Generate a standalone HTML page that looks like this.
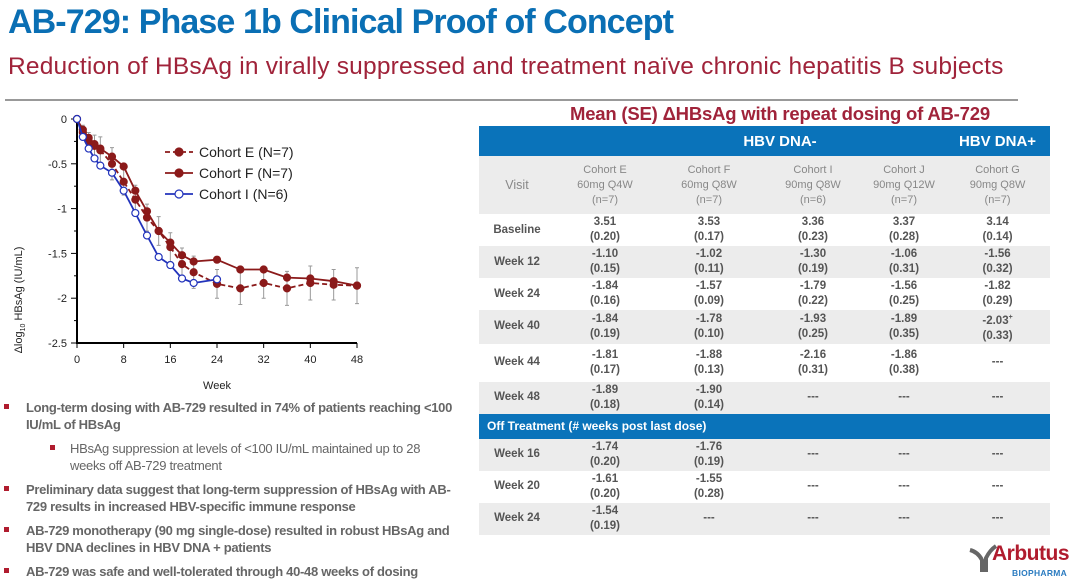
<!DOCTYPE html>
<html><head><meta charset="utf-8">
<style>
body{margin:0;width:1080px;height:583px;background:#fff;position:relative;overflow:hidden;font-family:"Liberation Sans",sans-serif}
.abs{position:absolute}
#title{left:8px;top:3px;font-weight:bold;font-size:34px;color:#0a6fb4;letter-spacing:-0.9px;white-space:nowrap}
#subtitle{left:8px;top:53px;font-size:24.5px;color:#a0233a;white-space:nowrap;letter-spacing:0.2px}
#rule{left:5px;top:99px;width:1013px;height:2px;background:#999}
table{border-collapse:collapse;font-size:11.5px;color:#555;table-layout:fixed}
td{text-align:center;padding:0;line-height:15px}
.g td{background:#ececec}
.b td{font-weight:bold}
.bul{font-size:13px;color:#666;line-height:17px;font-weight:bold;letter-spacing:-0.3px}
.bul .sq{position:absolute;top:5px;width:5px;height:5px;background:#b01c2e}
</style></head><body>
<div id="title" class="abs">AB-729: Phase 1b Clinical Proof of Concept</div>
<div id="subtitle" class="abs">Reduction of HBsAg in virally suppressed and treatment naïve chronic hepatitis B subjects</div>
<div id="rule" class="abs"></div>

<svg class="abs" style="left:0;top:100px" width="470" height="295" id="chart"></svg>

<div class="abs" style="left:570px;top:103px;font-weight:bold;font-size:18.5px;color:#a0233a;letter-spacing:-0.2px">Mean (SE) ΔHBsAg with repeat dosing of AB-729</div>

<table class="abs" style="left:479px;top:126px;width:571px">
<colgroup><col style="width:76px"><col style="width:100px"><col style="width:108px"><col style="width:100px"><col style="width:82px"><col style="width:105px"></colgroup>
<tr style="height:30px;background:#0a73ba;color:#fff;font-weight:bold;font-size:15px"><td></td><td colspan="4" style="padding-left:60px">HBV DNA-</td><td>HBV DNA+</td></tr>
<tr class="g" style="height:58px;color:#888;font-size:11px"><td style="font-size:12.5px">Visit</td><td>Cohort E<br>60mg Q4W<br>(n=7)</td><td>Cohort F<br>60mg Q8W<br>(n=7)</td><td>Cohort I<br>90mg Q8W<br>(n=6)</td><td>Cohort J<br>90mg Q12W<br>(n=7)</td><td>Cohort G<br>90mg Q8W<br>(n=7)</td></tr>
<tr class="b" style="height:32px"><td>Baseline</td><td>3.51<br>(0.20)</td><td>3.53<br>(0.17)</td><td>3.36<br>(0.23)</td><td>3.37<br>(0.28)</td><td>3.14<br>(0.14)</td></tr>
<tr class="b g" style="height:32px"><td>Week 12</td><td>-1.10<br>(0.15)</td><td>-1.02<br>(0.11)</td><td>-1.30<br>(0.19)</td><td>-1.06<br>(0.31)</td><td>-1.56<br>(0.32)</td></tr>
<tr class="b" style="height:32px"><td>Week 24</td><td>-1.84<br>(0.16)</td><td>-1.57<br>(0.09)</td><td>-1.79<br>(0.22)</td><td>-1.56<br>(0.25)</td><td>-1.82<br>(0.29)</td></tr>
<tr class="b g" style="height:32px"><td>Week 40</td><td>-1.84<br>(0.19)</td><td>-1.78<br>(0.10)</td><td>-1.93<br>(0.25)</td><td>-1.89<br>(0.35)</td><td>-2.03<sup style="font-size:7px">+</sup><br>(0.33)</td></tr>
<tr class="b" style="height:38px"><td>Week 44</td><td>-1.81<br>(0.17)</td><td>-1.88<br>(0.13)</td><td>-2.16<br>(0.31)</td><td>-1.86<br>(0.38)</td><td>---</td></tr>
<tr class="b g" style="height:32px"><td>Week 48</td><td>-1.89<br>(0.18)</td><td>-1.90<br>(0.14)</td><td>---</td><td>---</td><td>---</td></tr>
<tr style="height:25px;background:#0a73ba;color:#fff;font-weight:bold;font-size:12px"><td colspan="6" style="text-align:left;padding-left:8px">Off Treatment (# weeks post last dose)</td></tr>
<tr class="b g" style="height:32px"><td>Week 16</td><td>-1.74<br>(0.20)</td><td>-1.76<br>(0.19)</td><td>---</td><td>---</td><td>---</td></tr>
<tr class="b" style="height:32px"><td>Week 20</td><td>-1.61<br>(0.20)</td><td>-1.55<br>(0.28)</td><td>---</td><td>---</td><td>---</td></tr>
<tr class="b g" style="height:32px"><td>Week 24</td><td>-1.54<br>(0.19)</td><td>---</td><td>---</td><td>---</td><td>---</td></tr>
</table>

<div class="abs bul" style="left:26px;top:399px;width:440px"><span class="sq" style="left:-22px"></span>Long-term dosing with AB-729 resulted in 74% of patients reaching &lt;100 IU/mL of HBsAg</div>
<div class="abs bul" style="left:70px;top:440px;width:380px;font-weight:normal"><span class="sq" style="left:-20px"></span>HBsAg suppression at levels of &lt;100 IU/mL maintained up to 28 weeks off AB-729 treatment</div>
<div class="abs bul" style="left:26px;top:481px;width:440px"><span class="sq" style="left:-22px"></span>Preliminary data suggest that long-term suppression of HBsAg with AB-729 results in increased HBV-specific immune response</div>
<div class="abs bul" style="left:26px;top:522px;width:440px"><span class="sq" style="left:-22px"></span>AB-729 monotherapy (90 mg single-dose) resulted in robust HBsAg and HBV DNA declines in HBV DNA + patients</div>
<div class="abs bul" style="left:26px;top:563px;width:440px"><span class="sq" style="left:-22px"></span>AB-729 was safe and well-tolerated through 40-48 weeks of dosing</div>

<div class="abs" style="left:968px;top:542px;width:110px;height:40px">
<svg width="30" height="30" style="position:absolute;left:0;top:0"><path d="M2 8 Q10 10 14 18 L14 28 L18 28 L18 16 Q22 8 28 4" stroke="#666" stroke-width="4" fill="none"/></svg>
<div style="position:absolute;left:24px;top:0;font-weight:bold;font-size:21px;color:#b01c2e;letter-spacing:-0.5px">Arbutus</div>
<div style="position:absolute;left:44px;top:26px;font-weight:bold;font-size:8.5px;color:#2a7bc0;letter-spacing:0.3px">BIOPHARMA</div>
</div>

<script>
const weeksE=[0,1,2,3,4,6,8,10,12,14,16,18,20,24,28,32,36,40,44,48];
const cohortE=[0,-0.15,-0.25,-0.3,-0.35,-0.5,-0.7,-0.9,-1.1,-1.25,-1.43,-1.62,-1.71,-1.84,-1.89,-1.83,-1.89,-1.83,-1.85,-1.86];
const weeksF=[0,1,2,3,4,6,8,10,12,14,16,18,20,24,28,32,36,40,44,48];
const cohortF=[0,-0.12,-0.21,-0.28,-0.33,-0.42,-0.53,-0.8,-1.03,-1.25,-1.38,-1.52,-1.59,-1.57,-1.68,-1.68,-1.77,-1.78,-1.81,-1.86];
const weeksI=[0,1,2,3,4,6,8,10,12,14,16,18,20,24];
const cohortI=[0,-0.2,-0.33,-0.44,-0.52,-0.6,-0.8,-1.05,-1.3,-1.54,-1.63,-1.78,-1.83,-1.79];
const errE=[0,0.08,0.1,0.12,0.15,0.18,0.15,0.16,0.15,0.16,0.16,0.18,0.18,0.16,0.18,0.17,0.19,0.19,0.17,0.2];
const xTicks=[0,8,16,24,32,40,48];
const yTicks=[0,-0.5,-1,-1.5,-2,-2.5];
const svg=document.getElementById('chart');
const NS='http://www.w3.org/2000/svg';
const x=w=>77+w*(280/48);
const y=v=>19+(-v)*(224/2.5);
function mk(t,a){const e=document.createElementNS(NS,t);for(const k in a)e.setAttribute(k,a[k]);svg.appendChild(e);return e;}
let ax=mk('path',{d:`M${x(0)} ${y(0)} V${y(-2.5)} H${x(48)}`,stroke:'#000','stroke-width':2,fill:'none'});


yTicks.forEach(v=>{mk('line',{x1:x(0)-6,x2:x(0),y1:y(v),y2:y(v),stroke:'#000'});
 const t=mk('text',{x:x(0)-10,y:y(v)+4,'font-size':11,'text-anchor':'end',fill:'#222'});t.textContent=v;
 
 });
[-0.25,-0.75,-1.25,-1.75,-2.25].forEach(v=>mk('line',{x1:x(0)-3,x2:x(0),y1:y(v),y2:y(v),stroke:'#000'}));
xTicks.forEach(w=>{mk('line',{x1:x(w),x2:x(w),y1:y(-2.5),y2:y(-2.5)+5,stroke:'#000'});
 const t=mk('text',{x:x(w),y:y(-2.5)+20,'font-size':11,'text-anchor':'middle',fill:'#222'});t.textContent=w;
 
 });
let xt=mk('text',{x:217,y:289,'font-size':11,'text-anchor':'middle',fill:'#222'});xt.textContent='Week';


let yt=mk('text',{x:0,y:0,'font-size':11,'text-anchor':'middle',fill:'#222',transform:'translate(22,200) rotate(-90)'});yt.innerHTML='Δlog<tspan font-size="7" dy="3">10</tspan><tspan dy="-3"> HBsAg (IU/mL)</tspan>';


weeksE.forEach((w,i)=>{if(i==0)return;const e=errE[i];mk('path',{d:`M${x(w)} ${y(cohortE[i]-e)} V${y(cohortE[i]+e)} M${x(w)-2} ${y(cohortE[i]-e)} h4 M${x(w)-2} ${y(cohortE[i]+e)} h4`,stroke:'#999','stroke-width':1});});
function series(ws,vs,color,dash,open,name){
 const p=mk('polyline',{points:ws.map((w,i)=>x(w)+','+y(vs[i])).join(' '),fill:'none',stroke:color,'stroke-width':1.8,'stroke-dasharray':dash});
 
 
 ws.forEach((w,i)=>{const c=mk('circle',{cx:x(w),cy:y(vs[i]),r:3.5,fill:open?'#fff':color,stroke:color,'stroke-width':1.2});
  
  });
}
series(weeksE,cohortE,'#8b1a1a','5,3',false,'cohort-e');
series(weeksF,cohortF,'#8b1a1a','',false,'cohort-f');
series(weeksI,cohortI,'#2233bb','',true,'cohort-i');
const leg=[['Cohort E (N=7)','#8b1a1a','5,3',false],['Cohort F (N=7)','#8b1a1a','',false],['Cohort I (N=6)','#2233bb','',true]];
leg.forEach((l,i)=>{const yy=52+i*21;
 mk('line',{x1:165,x2:193,y1:yy,y2:yy,stroke:l[1],'stroke-width':1.8,'stroke-dasharray':l[2]});
 mk('circle',{cx:179,cy:yy,r:4,fill:l[3]?'#fff':l[1],stroke:l[1],'stroke-width':1.2});
 const t=mk('text',{x:199,y:yy+5,'font-size':14,fill:'#222'});t.textContent=l[0];
 
 });
</script>
</body></html>
